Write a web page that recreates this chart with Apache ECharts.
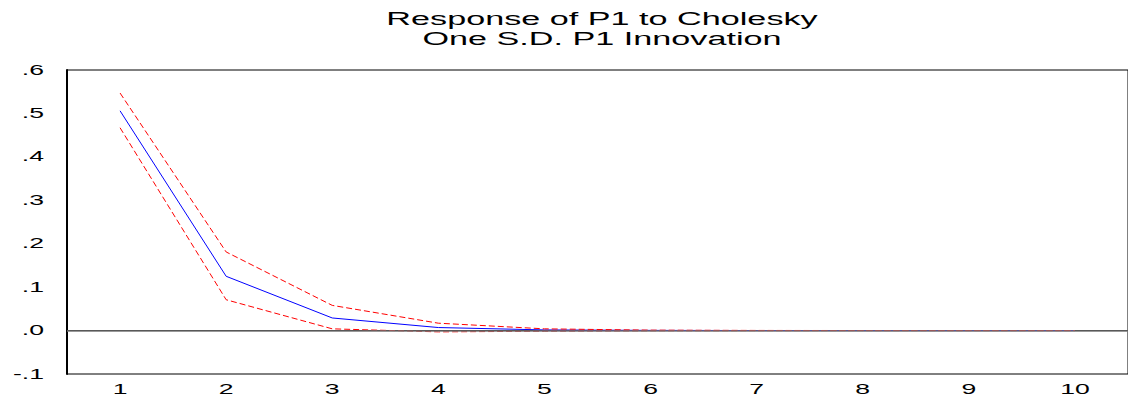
<!DOCTYPE html>
<html>
<head>
<meta charset="utf-8">
<style>
    html, body { margin: 0; padding: 0; background: #fff; }
    #main { width: 1128px; height: 399px; }
</style>
<script src="https://cdn.jsdelivr.net/npm/echarts@6/dist/echarts.min.js"></script>
</head>
<body>
<div id="main"></div>
<script>
    // periods
    var periods = ['1', '2', '3', '4', '5', '6', '7', '8', '9', '10'];
    // impulse response and +/- 2 S.E. bands
    var response = [0.506, 0.125, 0.029, 0.007, 0.0015, 0.0004, 0.0001, 0, 0, 0];
    var upperBand = [0.547, 0.181, 0.058, 0.017, 0.004, 0.001, 0.0003, 0.0001, 0, 0];
    var lowerBand = [0.467, 0.071, 0.004, -0.003, -0.0015, -0.0005, -0.0002, 0, 0, 0];
    // y tick labels (value -> text)
    var yTickValues = [-0.1, 0, 0.1, 0.2, 0.3, 0.4, 0.5, 0.6];
    var yTickLabels = ['-.1', '.0', '.1', '.2', '.3', '.4', '.5', '.6'];
    var titleLines = ['Response of P1 to Cholesky', 'One S.D. P1 Innovation'];

    var FONT = '"Liberation Sans", Arial, sans-serif';
    var STRETCH = 1.9;   // the reference text is drawn wide

    var chart = echarts.init(document.getElementById('main'), null, { renderer: 'svg' });

    chart.setOption({
        animation: false,
        grid: {
            left: 67, top: 70, width: 1070, height: 304,
            show: true, borderColor: '#000', borderWidth: 1
        },
        xAxis: {
            type: 'category',
            data: periods,
            boundaryGap: true,
            axisLine: { lineStyle: { color: '#000', width: 1 } },
            axisTick: { length: 5, lineStyle: { color: '#000' } },
            axisLabel: { show: false },
            splitLine: { show: false }
        },
        yAxis: {
            type: 'value',
            min: -0.1, max: 0.6, interval: 0.1,
            axisLine: { show: true, lineStyle: { color: '#000', width: 2 } },
            axisTick: { length: 13, lineStyle: { color: '#888' } },
            axisLabel: { show: false },
            splitLine: { show: false }
        },
        series: [
            {
                type: 'line', data: response, symbol: 'none',
                lineStyle: { color: '#0000ff', width: 1 },
                z: 3,
                markLine: {
                    silent: true, symbol: 'none', label: { show: false },
                    lineStyle: { color: '#777', type: 'solid', width: 1.5 },
                    data: [{ yAxis: 0 }]
                }
            },
            {
                type: 'line', data: upperBand, symbol: 'none',
                lineStyle: { color: '#ff0000', width: 1, type: [6, 3] }
            },
            {
                type: 'line', data: lowerBand, symbol: 'none',
                lineStyle: { color: '#ff0000', width: 1, type: [6, 3] }
            }
        ]
    });

    // text, stretched sideways like the reference
    var texts = [];
    texts.push({ text: titleLines[0], x: 602, y: 18.5, size: 18, align: 'center' });
    texts.push({ text: titleLines[1], x: 602, y: 38.5, size: 18, align: 'center' });
    yTickValues.forEach(function (v, i) {
        var p = chart.convertToPixel({ yAxisIndex: 0 }, v);
        texts.push({ text: yTickLabels[i], x: 44, y: p, size: 14, align: 'right' });
    });
    periods.forEach(function (c) {
        var p = chart.convertToPixel({ xAxisIndex: 0 }, c);
        texts.push({ text: c, x: p, y: 389, size: 14, align: 'center' });
    });

    chart.setOption({
        graphic: texts.map(function (t) {
            return {
                type: 'text', x: t.x, y: t.y, scaleX: STRETCH, silent: true,
                style: {
                    text: t.text, fill: '#000', font: t.size + 'px ' + FONT,
                    textAlign: t.align, textVerticalAlign: 'middle'
                }
            };
        })
    });
</script>
</body>
</html>
